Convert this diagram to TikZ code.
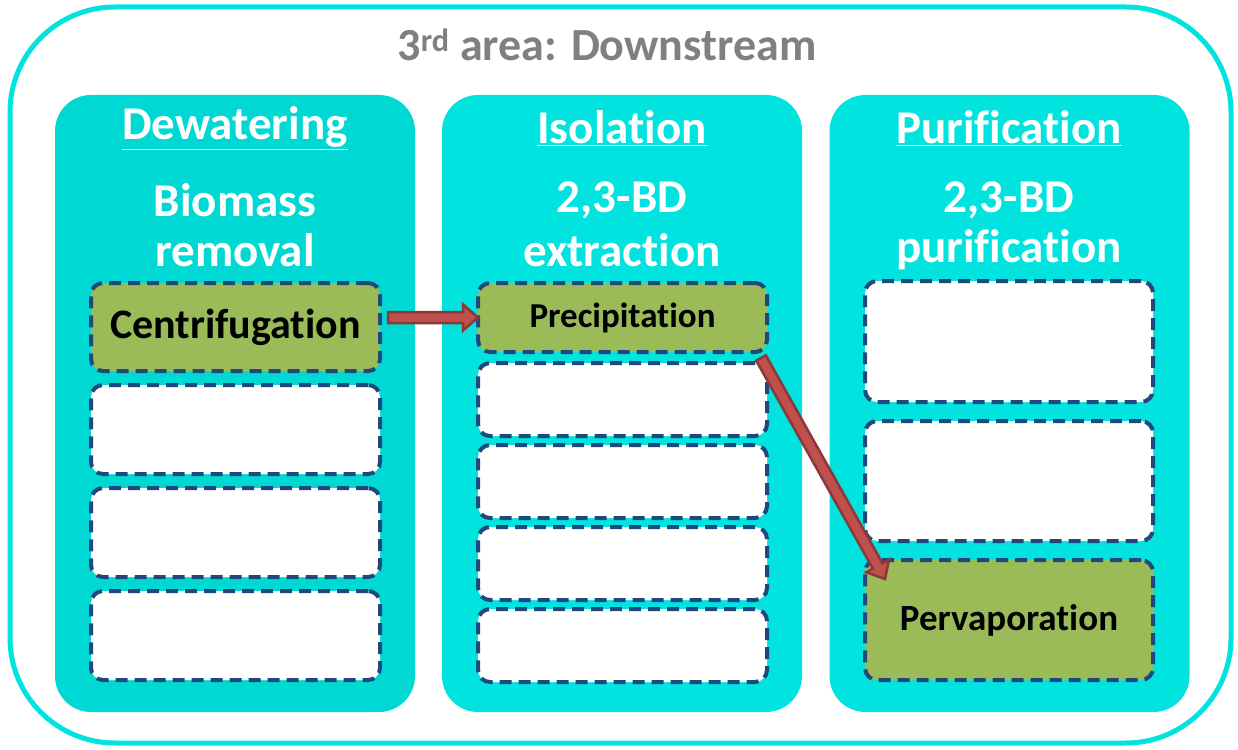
\documentclass[tikz,border=0pt]{standalone}
\usepackage{fontspec}
\setmainfont{Carlito}[Ligatures={NoCommon}]
\usetikzlibrary{calc}
\definecolor{cy}{RGB}{0,227,223}
\definecolor{cyd}{RGB}{0,217,211}
\definecolor{dashblue}{RGB}{31,73,125}
\definecolor{grn}{RGB}{155,187,89}
\definecolor{arrfill}{RGB}{192,80,77}
\definecolor{arrline}{RGB}{140,56,54}
\definecolor{titlegray}{RGB}{128,128,128}
\newcommand\bigarrow[2]{%
  \coordinate (ah) at ($(#2)!15pt!(#1)$);
  \filldraw[arrowstyle] ($(#1)!5.5pt!90:(#2)$) -- ($(ah)!5.5pt!-90:(#1)$) -- ($(ah)!13pt!-90:(#1)$) -- (#2)
    -- ($(ah)!13pt!90:(#1)$) -- ($(ah)!5.5pt!90:(#1)$) -- ($(#1)!5.5pt!-90:(#2)$) -- cycle;}
\begin{document}
\begin{tikzpicture}[x=1pt,y=-1pt,
  panel/.style={fill=#1, rounded corners=36pt, minimum width=360pt, minimum height=617pt, inner sep=0pt},
  stepbox/.style={draw=dashblue, line width=4pt, dash pattern=on 12pt off 7pt, rounded corners=12pt, inner sep=0pt},
  emptybox/.style={stepbox, fill=white},
  greenbox/.style={stepbox, fill=grn, font=\bfseries},
  head/.style={text=white, font=\bfseries\fontsize{47}{49}\selectfont, inner sep=0pt},
  arrowstyle/.style={fill=arrfill, draw=arrline, line width=2.5pt, line join=miter}]
\useasboundingbox (0,0) rectangle (1238,749);
\draw[cy, line width=5pt, rounded corners=105pt] (10,7) rectangle (1231,743);
\node[text=titlegray, font=\bfseries\fontsize{46}{48}\selectfont, inner sep=0pt] (title) at (607,45) {3\textsuperscript{rd} area: Downstream};
% panels
\node[panel=cyd] (pan1) at (235,403.5) {};
\node[panel=cy] (pan2) at (622,403.5) {};
\node[panel=cy] (pan3) at (1009.5,403.5) {};
% headers
\node[head] (h1) at (235,128) {\underline{Dewatering}};
\node[head] (h2) at (622,128) {\underline{Isolation}};
\node[head] (h3) at (1009,128) {\underline{Purification}};
\node[head] (s1a) at (235,200) {Biomass};
\node[head] (s1b) at (235,250) {removal};
\node[head] (s2a) at (622,200) {2,3-BD};
\node[head] (s2b) at (622,250) {extraction};
\node[head] (s3a) at (1009,200) {2,3-BD};
\node[head] (s3b) at (1009,250) {purification};
% column 1
\node[greenbox, minimum width=289pt, minimum height=88pt, font=\bfseries\fontsize{42}{44}\selectfont] (c1) at (235.5,327) {Centrifugation};
\node[emptybox, minimum width=289pt, minimum height=89pt] (c2) at (235.5,429.5) {};
\node[emptybox, minimum width=289pt, minimum height=89pt] (c3) at (235.5,532.5) {};
\node[emptybox, minimum width=289pt, minimum height=89pt] (c4) at (235.5,635.5) {};
% column 2
\node[greenbox, minimum width=289pt, minimum height=69pt, font=\bfseries\fontsize{35}{37}\selectfont] (p1) at (622.5,317.5) {Precipitation};
\node[emptybox, minimum width=289pt, minimum height=73pt] (p2) at (622.5,399.5) {};
\node[emptybox, minimum width=289pt, minimum height=73pt] (p3) at (622.5,481.5) {};
\node[emptybox, minimum width=289pt, minimum height=73pt] (p4) at (622.5,563.5) {};
\node[emptybox, minimum width=289pt, minimum height=73pt] (p5) at (622.5,645.5) {};
% column 3
\node[emptybox, minimum width=288pt, minimum height=121pt] (u1) at (1009,341.5) {};
\node[emptybox, minimum width=288pt, minimum height=120pt] (u2) at (1009,481) {};
\node[greenbox, minimum width=288pt, minimum height=120pt, font=\bfseries\fontsize{37}{39}\selectfont] (pv) at (1009,620) {Pervaporation};
% arrows
\coordinate (a1s) at ($(c1.east |- p1.west)+(6,0)$);
\coordinate (a1e) at ($(p1.west)+(2,0)$);
\bigarrow{a1s}{a1e}
\coordinate (a2s) at ($(p1.south east)+(-8,4)$);
\coordinate (a2e) at ($(pv.north west)+(22,21)$);
\bigarrow{a2s}{a2e}
\end{tikzpicture}
\end{document}
